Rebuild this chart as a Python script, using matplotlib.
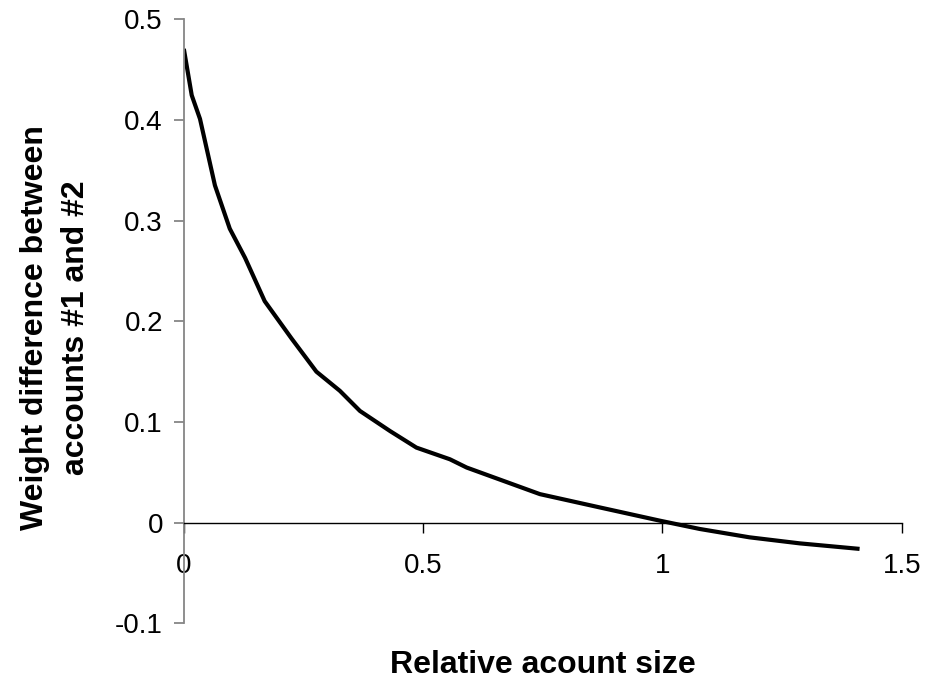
import matplotlib
matplotlib.use("Agg")
import matplotlib.pyplot as plt

# values
rel_size = [0.0, 0.0165, 0.0338, 0.065, 0.096, 0.128, 0.169, 0.225, 0.277,
            0.326, 0.368, 0.431, 0.486, 0.556, 0.591, 0.744, 0.869, 0.995,
            1.078, 1.182, 1.287, 1.412]
weight_diff = [0.4706, 0.4245, 0.401, 0.335, 0.292, 0.263, 0.220, 0.183, 0.150,
               0.131, 0.111, 0.091, 0.0746, 0.063, 0.0548, 0.0284, 0.0152, 0.002,
               -0.0062, -0.0145, -0.0205, -0.026]
x_ticks = [0, 0.5, 1, 1.5]
x_tick_labels = ["0", "0.5", "1", "1.5"]
y_ticks = [-0.1, 0, 0.1, 0.2, 0.3, 0.4, 0.5]
y_tick_labels = ["-0.1", "0", "0.1", "0.2", "0.3", "0.4", "0.5"]

plt.rcParams["font.family"] = ["Liberation Sans", "DejaVu Sans"]

fig = plt.figure(figsize=(9.27, 6.94), dpi=100)
ax = fig.add_axes([0.1983, 0.1017, 0.7744, 0.8706])

ax.plot(rel_size, weight_diff, color="black", linewidth=3.0,
        solid_joinstyle="round", solid_capstyle="butt")

ax.set_xlim(0, 1.5)
ax.set_ylim(-0.1, 0.5)

# excel style axes: grey y axis on the left, black x axis through zero
ax.spines["top"].set_visible(False)
ax.spines["right"].set_visible(False)
ax.spines["left"].set_color("#868686")
ax.spines["left"].set_linewidth(1.3)
ax.spines["bottom"].set_position(("data", 0))
ax.spines["bottom"].set_color("black")
ax.spines["bottom"].set_linewidth(1.0)

ax.set_xticks(x_ticks)
ax.set_xticklabels(x_tick_labels)
ax.set_yticks(y_ticks)
ax.set_yticklabels(y_tick_labels)
ax.tick_params(axis="x", direction="out", length=7, width=1.0, color="black",
               pad=15, labelsize=20)
ax.tick_params(axis="y", direction="out", length=7, width=1.3, color="#868686",
               pad=8, labelsize=20)

fig.text(0.5856, 0.042, "Relative acount size", ha="center", va="center",
         fontsize=23, fontweight="bold")
fig.text(0.06, 1 - 328 / 694, "Weight difference between\naccounts #1 and #2",
         ha="center", va="center", rotation=90, fontsize=23, fontweight="bold",
         linespacing=1.45, multialignment="center")

fig.savefig("out.png", dpi=100)
